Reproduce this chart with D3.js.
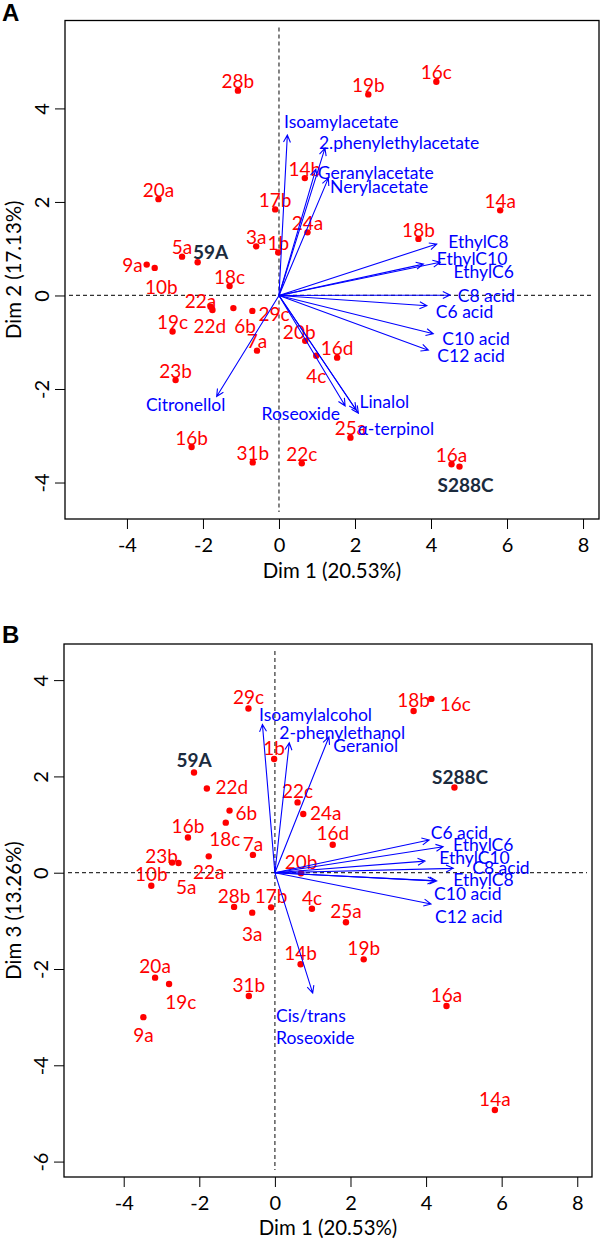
<!DOCTYPE html>
<html><head><meta charset="utf-8">
<script src="https://cdn.jsdelivr.net/npm/d3@7"></script>
<style>body{margin:0;background:#fff} svg{display:block}</style>
</head><body>
<svg id="chart" width="600" height="1241"></svg>
<script>
// ---------------- DATA ----------------
const categories = ["1b","3a","4c","5a","6b","7a","9a","10b","14a","14b","16a","16b","16c","16d","17b","18b","18c","19b","19c","20a","20b","22a","22c","22d","23b","24a","25a","28b","29c","31b","59A","S288C"];
const dim1 = [-0.02,-0.60,0.98,-2.55,-1.20,-0.58,-3.48,-3.27,5.82,0.68,4.54,-2.30,4.14,1.53,-0.10,3.67,-1.30,2.35,-2.80,-3.17,0.69,-1.75,0.60,-1.80,-2.72,0.75,1.88,-1.08,-0.70,-0.69,-2.14,4.75];
const dim2 = [0.92,1.05,-1.29,0.83,-0.27,-1.18,0.66,0.59,1.82,2.51,-3.61,-3.24,4.57,-1.33,1.84,1.21,0.20,4.30,-0.77,2.06,-0.97,-0.31,-3.59,-0.24,-1.81,1.35,-3.04,4.38,-0.33,-3.57,0.71,-3.66];
const dim3 = [2.36,-0.83,-0.75,0.20,1.29,0.37,-3.00,-0.27,-4.93,-1.90,-2.77,0.73,3.61,0.58,-0.72,3.36,1.04,-1.80,-2.31,-2.18,-0.01,0.34,1.46,1.75,0.21,1.22,-1.03,-0.71,3.41,-2.56,2.08,1.77];
const referenceStrains = ["59A","S288C"];

const varNamesA = ["Isoamylacetate","2.phenylethylacetate","Geranylacetate","Nerylacetate","EthylC8","EthylC10","EthylC6","C8 acid","C6 acid","C10 acid","C12 acid","Linalol","Roseoxide","α-terpinol","Citronellol"];
const varDim1A = [0.22,1.21,0.97,1.30,4.15,4.24,3.80,4.50,3.89,4.06,3.93,2.09,1.74,2.03,-1.64];
const varDim2A = [3.43,3.15,2.70,2.51,1.10,0.71,0.67,0.01,-0.22,-0.82,-1.17,-2.52,-2.36,-2.45,-2.16];

const varNamesB = ["Isoamylalcohol","2-phenylethanol","Geraniol","C6 acid","EthylC6","EthylC10","C8 acid","EthylC8","C10 acid","C12 acid","Cis/trans Roseoxide"];
const varDim1B = [-0.33,0.38,1.43,4.08,4.45,3.97,4.72,4.28,4.23,4.13,1.00];
const varDim3B = [3.08,2.70,2.82,0.68,0.54,0.24,0.09,-0.17,-0.17,-0.65,-2.50];

const xTicks = [-4,-2,0,2,4,6,8];
const yTicksA = [-4,-2,0,2,4];
const yTicksB = [-6,-4,-2,0,2,4];
const xTitle = "Dim 1 (20.53%)";
const yTitleA = "Dim 2 (17.13%)";
const yTitleB = "Dim 3 (13.26%)";

// ---------------- LAYOUT (label placement, px) ----------------
const ptLabelA = {"9a":["end",-4,0.3],"10b":["middle",6.7,19],"59A":["middle",13,-10.6],"22a":["middle",-12,-9],
  "22d":["middle",-0.7,19],"6b":["middle",11.7,17.4],"29c":["middle",21.7,2.3],"20b":["middle",-6,-9.3],
  "4c":["middle",0,20],"S288C":["middle",6,17.6]};
const ptLabelB = {"22d":["middle",25,-1.6],"6b":["middle",16.7,2],"18c":["middle",-1,15.6],"22a":["middle",0,15.4],
  "23b":["middle",-10.6,-6.7],"5a":["middle",7.7,23.4],"3a":["middle",0,20.6],"19c":["middle",11.7,18],
  "9a":["middle",0,17.3],"24a":["middle",22.4,-1.3],"16c":["middle",24,4.3],"S288C":["middle",5.7,-11.3],"59A":["middle",0,-12.7]};
const varLabelA = [["start",-3.3,-13.4],["start",-6,-6],["start",2,3],["start",1.7,8.4],["start",11.6,-2.6],["start",-3.3,-4],
  ["start",30,7.7],["start",7.7,0],["start",9,5.7],["start",9,5],["start",9,5],["start",1,-11.6],["end",-5,7.3],["start",1.5,18.7],["middle",-31,8.3]];
const varLabelB = [["start",-3.4,-10.3],["start",-10,-10.4],["start",4.3,9],["start",1.7,-7.7],["start",10,-2.4],["start",14.3,-3.3],
  ["start",19,-1.3],["start",16.6,-1.4],["start",-0.7,12.3],["start",4,12],["start",-36.7,21.7]];

const FONT = "Lato, 'Open Sans', sans-serif";
const RED = "#ff0000", BLUE = "#0000ff", NAVY = "#1b2b3e";
const FS_TICK = 20, FS_TITLE = 20.4, FS_PT = 19, FS_VAR = 17.5;
const svg = d3.select("#chart");

function panel(o){
  const g = svg.append("g");
  const x = d3.scaleLinear().domain(o.xDomain).range([o.box.l, o.box.r]);
  const y = d3.scaleLinear().domain(o.yDomain).range([o.box.b, o.box.t]);

  // dashed reference lines
  g.append("line").attr("x1", o.box.l + 4).attr("x2", o.box.r - 5).attr("y1", y(0)).attr("y2", y(0))
    .attr("stroke", "#333").attr("stroke-width", 1.2).attr("stroke-dasharray", "4,3");
  g.append("line").attr("x1", x(0)).attr("x2", x(0)).attr("y1", o.box.t + 7).attr("y2", o.box.b - 7)
    .attr("stroke", "#333").attr("stroke-width", 1.2).attr("stroke-dasharray", "4,3");

  // axes
  const xa = g.append("g").attr("transform", `translate(0,${o.box.b})`)
    .call(d3.axisBottom(x).tickValues(o.xTicks).tickSize(10).tickFormat(d => String(d)));
  xa.select(".domain").remove();
  xa.selectAll(".tick line").attr("stroke", "#000").attr("stroke-width", 1);
  xa.selectAll(".tick text").attr("y", 33).attr("dy", null).attr("font-family", FONT).attr("font-size", FS_TICK).attr("fill", "#000");

  const ya = g.append("g").attr("transform", `translate(${o.box.l},0)`)
    .call(d3.axisLeft(y).tickValues(o.yTicks).tickSize(10).tickFormat(d => String(d)));
  ya.select(".domain").remove();
  ya.selectAll(".tick line").attr("stroke", "#000").attr("stroke-width", 1);
  ya.selectAll(".tick text").attr("x", null).attr("dy", null).attr("text-anchor", "middle")
    .attr("transform", "translate(-16,0) rotate(-90)").attr("font-family", FONT).attr("font-size", FS_TICK).attr("fill", "#000");

  // box
  g.append("rect").attr("x", o.box.l).attr("y", o.box.t).attr("width", o.box.r - o.box.l).attr("height", o.box.b - o.box.t)
    .attr("fill", "none").attr("stroke", "#000").attr("stroke-width", 1.3);

  // titles
  g.append("text").attr("x", (o.box.l + o.box.r) / 2).attr("y", o.xTitleY).attr("text-anchor", "middle")
    .attr("font-family", FONT).attr("font-size", FS_TITLE).text(o.xTitle);
  g.append("text").attr("transform", `translate(21,${(o.box.t + o.box.b) / 2}) rotate(-90)`).attr("text-anchor", "middle")
    .attr("font-family", FONT).attr("font-size", FS_TITLE).text(o.yTitle);
  g.append("text").attr("x", 2).attr("y", o.letterY).attr("font-family", "'Liberation Sans', Arial, sans-serif")
    .attr("font-weight", "bold").attr("font-size", 24).text(o.letter);

  // points
  const pts = categories.map((c, i) => ({c, vx: dim1[i], vy: o.yValues[i]}));
  g.selectAll("circle.pt").data(pts).join("circle").attr("class", "pt")
    .attr("cx", d => x(d.vx)).attr("cy", d => y(d.vy)).attr("r", 3.2).attr("fill", RED);
  g.selectAll("text.pl").data(pts).join("text").attr("class", "pl")
    .each(function(d){
      const L = o.ptLabel[d.c] || ["middle", 0, o.defDy];
      const ref = referenceStrains.includes(d.c);
      d3.select(this).attr("x", x(d.vx) + L[1]).attr("y", y(d.vy) + L[2])
        .attr("text-anchor", L[0]).attr("dominant-baseline", "central")
        .attr("font-family", FONT).attr("font-size", FS_PT)
        .attr("font-weight", ref ? "bold" : "normal").attr("fill", ref ? NAVY : RED).text(d.c);
    });

  // variable arrows
  const x0 = x(0), y0 = y(0);
  o.vars.forEach((name, i) => {
    const tx = x(o.vx[i]), ty = y(o.vy[i]);
    const a = Math.atan2(ty - y0, tx - x0), L = 8, w = Math.PI / 7;
    const p = `M${x0},${y0}L${tx},${ty}M${tx - L * Math.cos(a - w)},${ty - L * Math.sin(a - w)}L${tx},${ty}L${tx - L * Math.cos(a + w)},${ty - L * Math.sin(a + w)}`;
    g.append("path").attr("d", p).attr("stroke", BLUE).attr("stroke-width", 1.1).attr("fill", "none");
    const lab = o.varLabel[i];
    const t = g.append("text").attr("x", tx + lab[1]).attr("y", ty + lab[2]).attr("text-anchor", lab[0])
      .attr("dominant-baseline", "central").attr("font-family", FONT).attr("font-size", FS_VAR).attr("fill", BLUE);
    if (name === "Cis/trans Roseoxide") {
      t.append("tspan").attr("x", tx + lab[1]).text("Cis/trans");
      t.append("tspan").attr("x", tx + lab[1]).attr("dy", 22.7).text("Roseoxide");
    } else t.text(name);
  });
}

panel({box:{l:65,t:20.5,r:599,b:519}, xDomain:[-5.63,8.42], yDomain:[-4.78,5.88], yValues:dim2,
  xTicks, yTicks:yTicksA, xTitle, yTitle:yTitleA, xTitleY:578, letter:"A", letterY:21,
  ptLabel:ptLabelA, defDy:-9.8, vars:varNamesA, vx:varDim1A, vy:varDim2A, varLabel:varLabelA});
panel({box:{l:64,t:644,r:592,b:1177}, xDomain:[-5.58,8.39], yDomain:[-6.32,4.75], yValues:dim3,
  xTicks, yTicks:yTicksB, xTitle, yTitle:yTitleB, xTitleY:1235, letter:"B", letterY:643,
  ptLabel:ptLabelB, defDy:-11.8, vars:varNamesB, vx:varDim1B, vy:varDim3B, varLabel:varLabelB});
</script>
</body></html>
